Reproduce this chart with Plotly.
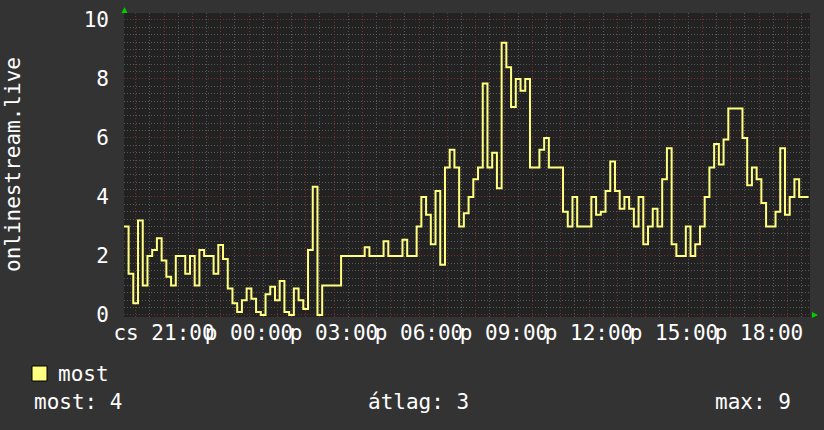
import plotly.graph_objects as go
from datetime import datetime, timedelta

# ---------------- data ----------------
series_name = "most"
y_title = "onlinestream.live"
day_abbr = ["h", "k", "sze", "cs", "p", "szo", "v"]   # Hungarian weekday abbreviations (Mon..Sun)
stat_labels = ["most", "átlag", "max"]
y_tick_values = [0, 2, 4, 6, 8, 10]

series_start = datetime(2024, 1, 4, 19, 35)   # Thursday evening, 10-minute samples
step_minutes = 10
values = [
    3.0, 1.4, 0.4, 3.2, 1.0, 2.0, 2.2, 2.6, 1.85, 1.3,
    1.0, 2.0, 2.0, 1.4, 2.0, 1.0, 2.2, 2.0, 2.0, 1.4,
    2.37, 1.9, 0.9, 0.4, 0.1, 0.5, 0.9, 0.55, 0.1, 0.0,
    0.7, 0.96, 0.5, 1.15, 0.1, 0.0, 0.9, 0.5, 0.2, 2.2,
    4.35, 0.0, 1.0, 1.0, 1.0, 1.0, 2.0, 2.0, 2.0, 2.0,
    2.0, 2.3, 2.0, 2.0, 2.0, 2.5, 2.0, 2.0, 2.0, 2.55,
    2.0, 2.0, 3.0, 4.0, 3.4, 2.4, 4.2, 1.7, 5.0, 5.6,
    5.0, 3.0, 3.45, 4.0, 4.6, 5.0, 7.85, 5.0, 5.5, 4.3,
    9.23, 8.4, 7.05, 8.0, 7.6, 8.0, 5.0, 5.0, 5.6, 6.0,
    5.0, 5.0, 5.0, 3.5, 3.0, 4.0, 3.0, 3.0, 3.0, 4.0,
    3.4, 3.5, 4.2, 5.2, 4.2, 3.6, 4.0, 3.6, 3.0, 4.0,
    2.4, 3.0, 3.6, 3.0, 4.6, 5.65, 2.4, 2.0, 2.0, 3.0,
    2.0, 2.4, 3.0, 4.0, 5.0, 5.8, 5.1, 5.95, 7.0, 7.0,
    7.0, 6.0, 4.4, 5.0, 4.6, 3.8, 3.0, 3.0, 3.5, 5.65,
    3.4, 4.0, 4.6, 4.0, 4.0,
]
times = [series_start + timedelta(minutes=step_minutes * i) for i in range(len(values))]
# closing point so the last step has its full width
times_plot = times + [times[-1] + timedelta(minutes=step_minutes)]
values_plot = values + [values[-1]]

x_range = [datetime(2024, 1, 4, 19, 35, 18), datetime(2024, 1, 5, 19, 48, 0)]
y_range = [-0.068, 10.237]

# ---------------- styling ----------------
W, H = 824, 430
M_L, M_R, M_T, M_B = 124, 14, 13, 113
PW, PH = W - M_L - M_R, H - M_T - M_B
FONT = "DejaVu Sans Mono"
FS = 21
BG = "#333333"
PLOT_BG = "#222222"
MAJOR = "#7a3030"
MINOR = "#585858"
LINE = "#ffff80"
ARROW = "#00cc00"


def px(x):
    return (x - M_L) / PW


def py(y):
    return (H - M_B - y) / PH


# hourly ticks (major grid), labels every 3 hours
hour_ticks, hour_text = [], []
t = datetime(2024, 1, 4, 20, 0)
while t <= x_range[1]:
    hour_ticks.append(t)
    hour_text.append(f"{day_abbr[t.weekday()]} {t:%H:%M}" if t.hour % 3 == 0 else "")
    t += timedelta(hours=1)

fig = go.Figure()
fig.add_trace(go.Scatter(
    x=times_plot, y=values_plot, mode="lines", name=series_name,
    line=dict(color=LINE, width=2, shape="hv"), showlegend=False,
))

last_v = values[-1]
avg_v = sum(values) / len(values)
max_v = max(values)

annotations = [
    dict(text=y_title, xref="paper", yref="paper", x=px(13), y=0.5, textangle=-90,
         showarrow=False, xanchor="center", yanchor="middle",
         font=dict(family=FONT, size=FS, color="white")),
    dict(text=series_name, xref="paper", yref="paper", x=px(56), y=py(374),
         showarrow=False, xanchor="left", yanchor="middle",
         font=dict(family=FONT, size=FS, color="white")),
    dict(text=f"{stat_labels[0]}: {last_v:.0f}", xref="paper", yref="paper", x=px(32), y=py(402),
         showarrow=False, xanchor="left", yanchor="middle",
         font=dict(family=FONT, size=FS, color="white")),
    dict(text=f"{stat_labels[1]}: {avg_v:.0f}", xref="paper", yref="paper", x=px(418), y=py(402),
         showarrow=False, xanchor="center", yanchor="middle",
         font=dict(family=FONT, size=FS, color="white")),
    dict(text=f"{stat_labels[2]}: {max_v:.0f}", xref="paper", yref="paper", x=px(793), y=py(402),
         showarrow=False, xanchor="right", yanchor="middle",
         font=dict(family=FONT, size=FS, color="white")),
]

shapes = [
    # legend swatch
    dict(type="rect", xref="paper", yref="paper", x0=px(32), x1=px(47), y0=py(381), y1=py(366),
         fillcolor=LINE, line=dict(color="black", width=1)),
    # axis arrows
    dict(type="path", xref="paper", yref="paper",
         path=f"M {px(121.5)} {py(13)} L {px(124.5)} {py(7)} L {px(127.5)} {py(13)} Z",
         fillcolor=ARROW, line=dict(color=ARROW, width=0)),
    dict(type="path", xref="paper", yref="paper",
         path=f"M {px(812)} {py(312)} L {px(818)} {py(315)} L {px(812)} {py(318)} Z",
         fillcolor=ARROW, line=dict(color=ARROW, width=0)),
]

fig.update_layout(
    width=W, height=H,
    margin=dict(l=M_L, r=M_R, t=M_T, b=M_B, autoexpand=False),
    paper_bgcolor=BG, plot_bgcolor=PLOT_BG,
    showlegend=False,
    annotations=annotations, shapes=shapes,
    xaxis=dict(
        type="date", range=x_range, tickmode="array", tickvals=hour_ticks, ticktext=hour_text,
        tickangle=0, showgrid=True, gridcolor=MAJOR, griddash="1px,2px", gridwidth=1,
        ticks="", ticklabelstandoff=1,
        tickfont=dict(family=FONT, size=FS, color="white"),
        minor=dict(dtick=1800000, tick0="2024-01-04 19:30", showgrid=True, gridcolor=MINOR,
                   griddash="1px,2px", gridwidth=1, ticks=""),
        zeroline=False, showline=False, fixedrange=True,
    ),
    yaxis=dict(
        range=y_range, tickmode="array", tickvals=y_tick_values,
        ticktext=[str(v) for v in y_tick_values],
        showgrid=True, gridcolor=MAJOR, griddash="1px,2px", gridwidth=1,
        ticks="", ticklabelstandoff=14,
        tickfont=dict(family=FONT, size=FS, color="white"),
        minor=dict(dtick=0.25, tick0=0, showgrid=True, gridcolor=MINOR,
                   griddash="1px,2px", gridwidth=1, ticks=""),
        zeroline=False, showline=False, fixedrange=True,
    ),
)

fig.write_html(
    "out.html",
    config={"displayModeBar": False},
    post_script="document.body.style.margin='0';document.body.style.overflow='hidden';",
)
